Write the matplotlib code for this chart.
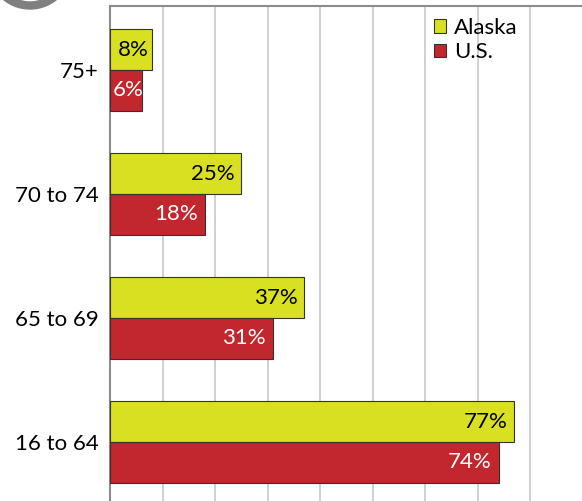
import matplotlib
matplotlib.use("Agg")
import matplotlib.pyplot as plt
from matplotlib.patches import Patch, Wedge

plt.rcParams["font.family"] = ["Lato", "DejaVu Sans"]

# Data (bottom to top)
age_groups = ["16 to 64", "65 to 69", "70 to 74", "75+"]
alaska = [77, 37, 25, 8]
us = [74, 31, 18, 6]
series_names = ["Alaska", "U.S."]

ALASKA_COLOR = "#D9E021"
US_COLOR = "#C1272D"
FS = 16

W, H, DPI = 582, 501, 100
fig = plt.figure(figsize=(W / DPI, H / DPI), dpi=DPI)
ax = fig.add_axes([110 / W, 0, 1 - 110 / W, 1 - 6 / H])

bar_h = 0.33
ypos = list(range(len(age_groups)))
ax.barh([y + bar_h / 2 for y in ypos], alaska, height=bar_h,
        color=ALASKA_COLOR, edgecolor="#333333", linewidth=0.8, zorder=3)
ax.barh([y - bar_h / 2 for y in ypos], us, height=bar_h,
        color=US_COLOR, edgecolor="#333333", linewidth=0.8, zorder=3)


def bar_label(value, y, color):
    # labels sit inside the bar end; short bars get them centred instead
    if value >= 10:
        ax.annotate(f"{value}%", (value, y), xytext=(-5, 0),
                    textcoords="offset points", ha="right", va="center",
                    fontsize=FS, color=color, zorder=4)
    else:
        ax.annotate(f"{value}%", (value / 2, y), xytext=(1.8, 0),
                    textcoords="offset points", ha="center", va="center",
                    fontsize=FS, color=color, zorder=4)


for y, a, u in zip(ypos, alaska, us):
    bar_label(a, y + bar_h / 2, "black")
    bar_label(u, y - bar_h / 2, "white")

ax.set_xlim(0, 89.9)
ax.set_ylim(-0.476, 3.516)
ax.set_xticks(range(0, 90, 10))
ax.xaxis.grid(True, color="#C8C8C8", linewidth=1.2, zorder=0)
ax.tick_params(axis="x", length=0, labelbottom=False)
ax.set_yticks(ypos)
ax.set_yticklabels(age_groups, fontsize=FS)
ax.tick_params(axis="y", length=0, pad=8)

for side in ["right", "bottom"]:
    ax.spines[side].set_visible(False)
ax.spines["left"].set_color("#8C8C8C")
ax.spines["left"].set_linewidth(1.5)
ax.spines["top"].set_color("#8C8C8C")
ax.spines["top"].set_linewidth(1.5)

handles = [Patch(facecolor=ALASKA_COLOR, edgecolor="#333333", linewidth=0.8),
           Patch(facecolor=US_COLOR, edgecolor="#333333", linewidth=0.8)]
fig.legend(handles, series_names, loc="upper left",
           bbox_to_anchor=(434 / W, 1 - 18 / H), bbox_transform=fig.transFigure,
           frameon=False, fontsize=FS, handlelength=0.55, handleheight=0.55,
           handletextpad=0.35, labelspacing=0.2, borderpad=0, borderaxespad=0)

# partial grey ring cut off at the top-left corner
ring = Wedge((30, H + 33), 42, 0, 360, width=7, color="#808080",
             transform=None)
fig.patches.append(ring)

fig.savefig("out.png", dpi=DPI)
